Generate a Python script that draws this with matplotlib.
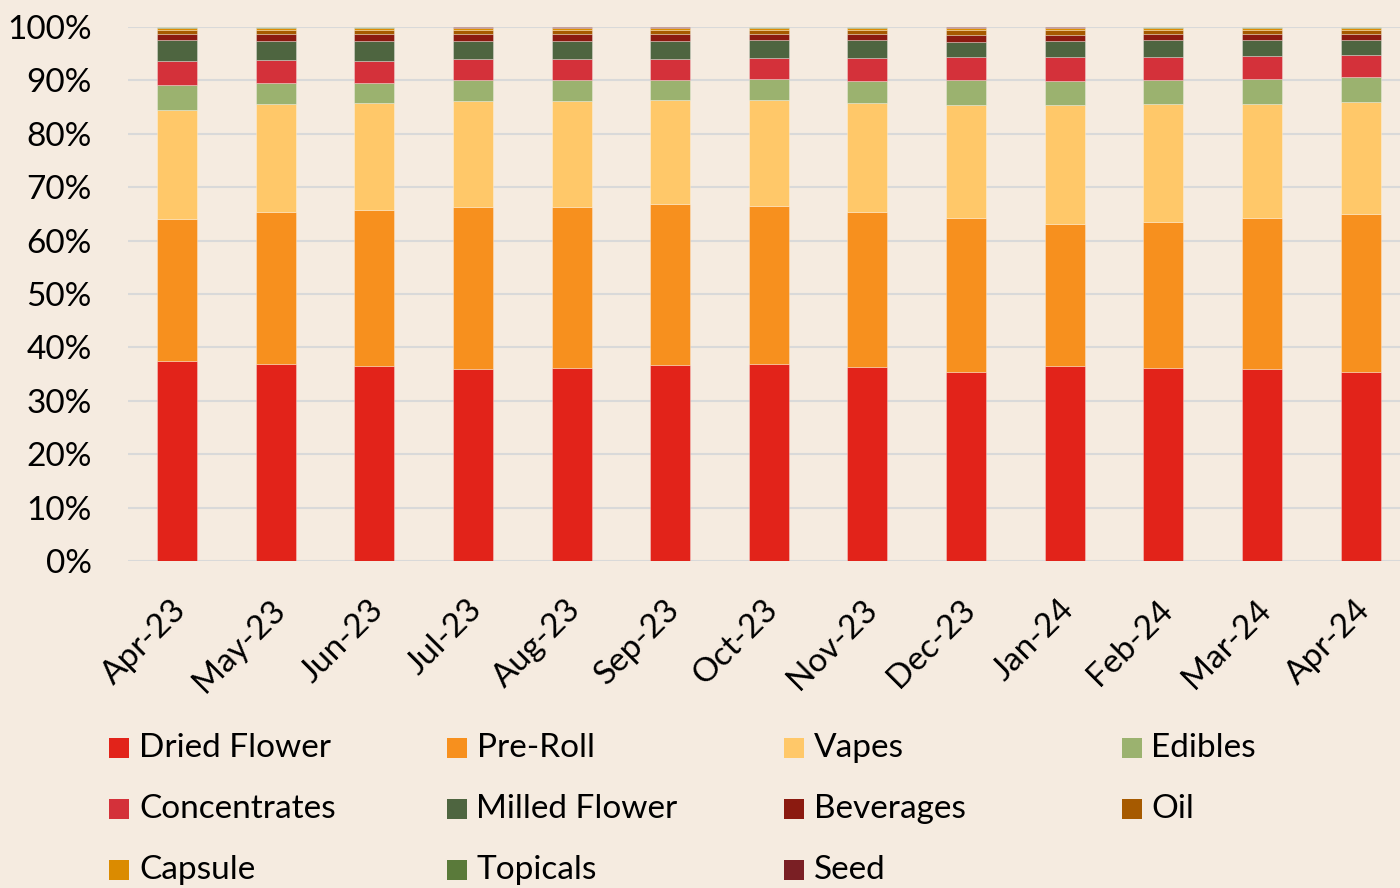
import matplotlib
matplotlib.use("Agg")
import matplotlib.pyplot as plt
import matplotlib.transforms as mtransforms
from matplotlib.patches import Rectangle
import numpy as np

plt.rcParams['font.family'] = ['Lato', 'DejaVu Sans']

months = ["Apr-23", "May-23", "Jun-23", "Jul-23", "Aug-23", "Sep-23", "Oct-23",
          "Nov-23", "Dec-23", "Jan-24", "Feb-24", "Mar-24", "Apr-24"]

dried_flower = [37.4, 36.9, 36.5, 36.0, 36.1, 36.7, 36.9, 36.3, 35.4, 36.5, 36.1, 36.0, 35.4]
pre_roll = [26.6, 28.5, 29.2, 30.3, 30.2, 30.2, 29.6, 29.1, 28.8, 26.6, 27.4, 28.2, 29.6]
vapes = [20.5, 20.1, 20.1, 19.8, 19.8, 19.4, 19.8, 20.4, 21.1, 22.2, 22.0, 21.4, 21.0]
edibles = [4.6, 4.1, 3.8, 4.0, 4.0, 3.8, 4.0, 4.1, 4.8, 4.6, 4.6, 4.7, 4.6]
concentrates = [4.6, 4.2, 4.1, 3.9, 3.9, 3.9, 3.9, 4.3, 4.2, 4.4, 4.3, 4.2, 4.1]
milled_flower = [3.8, 3.6, 3.7, 3.4, 3.4, 3.4, 3.3, 3.4, 2.95, 3.1, 3.1, 3.0, 2.9]
beverages = [1.1, 1.3, 1.2, 1.2, 1.2, 1.2, 1.2, 1.1, 1.25, 1.1, 1.2, 1.1, 1.1]
oil = [0.9, 0.8, 0.9, 0.8, 0.8, 0.8, 0.8, 0.8, 0.9, 0.9, 0.8, 0.9, 0.8]
capsule = [0.35, 0.35, 0.35, 0.35, 0.35, 0.35, 0.35, 0.35, 0.35, 0.35, 0.35, 0.35, 0.35]
topicals = [0.15, 0.15, 0.15, 0.15, 0.15, 0.15, 0.15, 0.15, 0.15, 0.15, 0.15, 0.15, 0.15]
seed = [0.05, 0.05, 0.05, 0.05, 0.05, 0.05, 0.05, 0.05, 0.05, 0.05, 0.05, 0.05, 0.05]

series_names = ["Dried Flower", "Pre-Roll", "Vapes", "Edibles", "Concentrates",
                "Milled Flower", "Beverages", "Oil", "Capsule", "Topicals", "Seed"]
series_values = [dried_flower, pre_roll, vapes, edibles, concentrates,
                 milled_flower, beverages, oil, capsule, topicals, seed]
colors = ["#E2231A", "#F7901E", "#FFC869", "#9BB26F", "#D4313A", "#4E6540",
          "#8B1A10", "#A65A00", "#DB8B00", "#5A7A3A", "#7A1F24"]

BG = "#F5EBE0"
W, H = 1400, 888
FS = 24
fig = plt.figure(figsize=(W / 100, H / 100), dpi=100, facecolor=BG)
ax = fig.add_axes([128 / W, (H - 561) / H, (1400 - 128) / W, (561 - 27) / H])
ax.set_facecolor(BG)

x = np.arange(len(months))
bottom = np.zeros(len(months))
for name, vals, c in zip(series_names, series_values, colors):
    v = np.array(vals)
    ax.bar(x, v, width=0.405, bottom=bottom, color=c, edgecolor=(1, 1, 1, 0.35),
           linewidth=0.6, zorder=3)
    bottom += v

ax.set_ylim(0, 100)
ax.set_xlim(-0.497, 12.40)
ax.set_yticks(np.arange(0, 101, 10))
ax.set_yticklabels([f"{v}%" for v in range(0, 101, 10)], fontsize=FS)
ax.yaxis.grid(True, color="#D9D9D9", linewidth=1.5, zorder=0)
ax.set_axisbelow(True)
for s in ax.spines.values():
    s.set_visible(False)
ax.tick_params(axis='both', length=0)
ax.tick_params(axis='y', pad=26)
ax.set_xticks(x)
ax.set_xticklabels(months, rotation=45, ha='right', rotation_mode='anchor', fontsize=FS)
ax.tick_params(axis='x', pad=24)
offset = mtransforms.ScaledTranslation(-6 / 100, 0, fig.dpi_scale_trans)
for lbl in ax.get_xticklabels():
    lbl.set_transform(lbl.get_transform() + offset)

# legend (row-wise, 4 columns)
for i, (name, c) in enumerate(zip(series_names, colors)):
    row, col = divmod(i, 4)
    px = 109 + col * 337.5
    py = 748 + row * 61
    fig.patches.append(Rectangle((px / W, (H - py - 10) / H), 20 / W, 20 / H,
                                 transform=fig.transFigure, facecolor=c, edgecolor='none'))
    fig.text((px + 30) / W, (H - py) / H, name, fontsize=FS, va='center', ha='left')

fig.savefig("out.png", dpi=100, facecolor=BG)
